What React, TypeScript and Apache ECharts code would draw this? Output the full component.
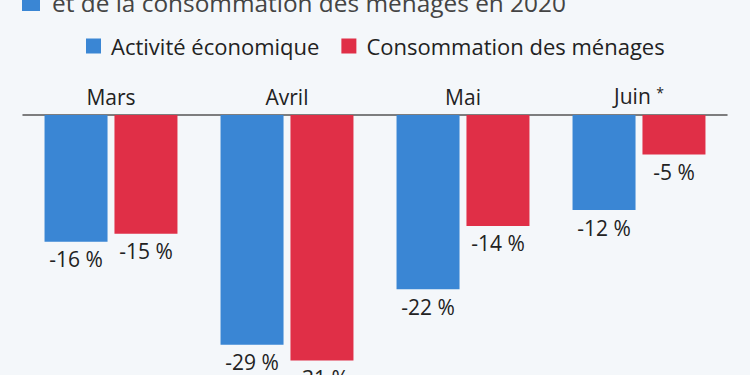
import React, { useEffect, useRef } from "react";
import * as echarts from "echarts";

const categories = ["Mars", "Avril", "Mai", "Juin"];
const activite = [-16, -29, -22, -12];
const consommation = [-15, -31, -14, -5];
const seriesNames = ["Activité économique", "Consommation des ménages"];
const titleLine = "et de la consommation des ménages en 2020";

const BLUE = "#3a86d4";
const RED = "#e02f47";
const FONT = "'Open Sans', 'Noto Sans', sans-serif";

export default function App() {
  const ref = useRef<HTMLDivElement>(null);
  useEffect(() => {
    if (!ref.current) return;
    const chart = echarts.init(ref.current, undefined, { renderer: "svg" });
    const labelStyle = {
      show: true,
      position: "bottom" as const,
      distance: 7,
      formatter: (p: any) => `${p.value} %`,
      fontSize: 21,
      color: "#222",
      fontFamily: FONT,
    };
    chart.setOption({
      animation: false,
      backgroundColor: "#f4f7fa",
      textStyle: { fontFamily: FONT },
      graphic: [
        { type: "rect", shape: { x: 22, y: -7, width: 18, height: 18 }, style: { fill: BLUE } },
        {
          type: "text",
          x: 52,
          y: 2,
          style: {
            text: titleLine,
            fontSize: 24.4,
            fontFamily: FONT,
            fill: "#444",
            verticalAlign: "middle",
            align: "left",
          },
        },
      ],
      legend: {
        left: 86,
        top: 35,
        padding: 0,
        itemWidth: 15,
        itemHeight: 15,
        itemGap: 22,
        icon: "rect",
        textStyle: { fontSize: 22, color: "#222", fontFamily: FONT, padding: [0, 0, 0, 5] },
        data: seriesNames,
      },
      grid: { left: 23, right: 23, top: 115, height: 35 * 7.92 },
      xAxis: {
        type: "category",
        position: "top",
        data: categories,
        axisLine: { show: true, lineStyle: { color: "#555", width: 1.5 } },
        axisTick: { show: false },
        axisLabel: {
          margin: 8,
          fontSize: 21,
          color: "#222",
          fontFamily: FONT,
          formatter: (v: string) => (v === "Juin" ? "Juin {s|*}" : v),
          rich: { s: { fontSize: 14, color: "#222", fontFamily: FONT, verticalAlign: "top", padding: [0, 0, 8, 0] } },
        },
      },
      yAxis: {
        type: "value",
        min: -35,
        max: 0,
        show: false,
        splitLine: { show: false },
      },
      series: [
        {
          name: seriesNames[0],
          type: "bar",
          data: activite,
          barWidth: 63,
          barGap: "11%",
          itemStyle: { color: BLUE },
          label: labelStyle,
        },
        {
          name: seriesNames[1],
          type: "bar",
          data: consommation,
          barWidth: 63,
          barGap: "11%",
          itemStyle: { color: RED },
          label: labelStyle,
        },
      ],
    });
    return () => chart.dispose();
  }, []);
  return (
    <div style={{ position: "fixed", left: 0, top: 0, width: 750, height: 375, overflow: "hidden" }}>
      <div ref={ref} style={{ width: 750, height: 420 }} />
    </div>
  );
}
